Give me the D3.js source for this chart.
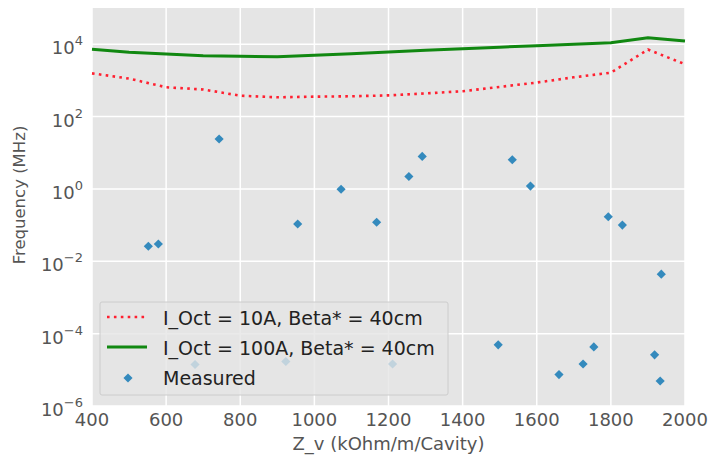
<!DOCTYPE html>
<html>
<head>
<meta charset="utf-8">
<script src="https://d3js.org/d3.v7.min.js"></script>
<style>
  body { margin: 0; background: #fff; }
  text { font-family: "DejaVu Sans", sans-serif; }
</style>
</head>
<body>
<svg></svg>
<script>
// impedance values (x) used by both threshold curves
const zv = [400, 500, 600, 700, 800, 900, 1000, 1100, 1200, 1300, 1400, 1500, 1600, 1700, 1800, 1900, 2000];
// I_Oct = 10A, Beta* = 40cm
const freq10A = [1560, 1120, 645, 560, 377, 340, 355, 363, 385, 437, 500, 660, 870, 1215, 1630, 7100, 2800];
// I_Oct = 100A, Beta* = 40cm
const freq100A = [7250, 5950, 5360, 4800, 4620, 4520, 4950, 5460, 6120, 6780, 7500, 8250, 9080, 9980, 11000, 15100, 12250];

// measured points
const measZ = [552, 579, 678, 743, 923, 955, 1072, 1168, 1211, 1255, 1291, 1496, 1534, 1583, 1660, 1725, 1754, 1793, 1831, 1918, 1933, 1936];
const measF = [0.026, 0.03, 1.4e-5, 24, 1.7e-5, 0.107, 0.98, 0.12, 1.45e-5, 2.2, 7.9, 4.9e-5, 6.4, 1.2, 7.4e-6, 1.45e-5, 4.3e-5, 0.17, 0.1, 2.6e-5, 4.9e-6, 0.0044];

const xTicks = [400, 600, 800, 1000, 1200, 1400, 1600, 1800, 2000];
const yExps = [-6, -4, -2, 0, 2, 4];
const legendLabels = ['I_Oct = 10A, Beta* = 40cm', 'I_Oct = 100A, Beta* = 40cm', 'Measured'];

const size = {w: 710, h: 456};
const margin = {t: 8, r: 25, b: 50, l: 92};
const svg = d3.select('svg').attr('width', size.w).attr('height', size.h);

const x = d3.scaleLinear().domain([400, 2000]).range([margin.l, size.w - margin.r]);
const y = d3.scaleLog().domain([1e-6, 1e5]).range([size.h - margin.b, margin.t]);

// grey panel
svg.append('rect')
    .attr('x', margin.l).attr('y', margin.t)
    .attr('width', x.range()[1] - x.range()[0])
    .attr('height', y.range()[0] - y.range()[1])
    .attr('fill', '#e5e5e5');

// white grid
const gridG = svg.append('g');
gridG.selectAll('line.vx')
    .data(xTicks)
    .join('line')
    .attr('x1', d => x(d)).attr('x2', d => x(d))
    .attr('y1', margin.t).attr('y2', y.range()[0])
    .attr('stroke', '#fff').attr('stroke-width', 1.5);
gridG.selectAll('line.hy')
    .data(yExps)
    .join('line')
    .attr('x1', margin.l).attr('x2', x.range()[1])
    .attr('y1', d => y(Math.pow(10, d))).attr('y2', d => y(Math.pow(10, d)))
    .attr('stroke', '#fff').attr('stroke-width', 1.5);

// x tick labels
svg.append('g').selectAll('text')
    .data(xTicks)
    .join('text')
    .attr('x', d => x(d))
    .attr('y', 426)
    .attr('text-anchor', 'middle')
    .attr('font-size', 18)
    .attr('fill', '#555')
    .text(d => d);

// y tick labels, 10 with superscript exponent
const yl = svg.append('g').selectAll('text')
    .data(yExps)
    .join('text')
    .attr('x', 83)
    .attr('y', d => y(Math.pow(10, d)) + 10)
    .attr('text-anchor', 'end')
    .attr('fill', '#555')
    .attr('font-size', 18);
yl.append('tspan').text('10');
yl.append('tspan')
    .attr('dy', -9)
    .attr('font-size', 13)
    .text(d => d < 0 ? '\u2212' + (-d) : d);

// axis labels
svg.append('text')
    .attr('x', (x.range()[0] + x.range()[1]) / 2)
    .attr('y', 450)
    .attr('text-anchor', 'middle')
    .attr('font-size', 18)
    .attr('fill', '#555')
    .text('Z_v (kOhm/m/Cavity)');
svg.append('text')
    .attr('transform', 'translate(25,195) rotate(-90)')
    .attr('text-anchor', 'middle')
    .attr('font-size', 16.5)
    .attr('fill', '#555')
    .text('Frequency (MHz)');

const line = d3.line().x(d => x(d[0])).y(d => y(d[1]));
const diamond = d3.symbol().type(d3.symbolSquare).size(42);

// measured points
svg.append('g').selectAll('path')
    .data(measZ.map((z, i) => [z, measF[i]]))
    .join('path')
    .attr('d', diamond)
    .attr('transform', d => 'translate(' + x(d[0]) + ',' + y(d[1]) + ') rotate(45)')
    .attr('fill', '#348abd');

// threshold curves
svg.append('path')
    .datum(zv.map((z, i) => [z, freq10A[i]]))
    .attr('d', line)
    .attr('fill', 'none')
    .attr('stroke', '#ff2030')
    .attr('stroke-width', 2.6)
    .attr('stroke-dasharray', '2.6,4.3');
svg.append('path')
    .datum(zv.map((z, i) => [z, freq100A[i]]))
    .attr('d', line)
    .attr('fill', 'none')
    .attr('stroke', '#118811')
    .attr('stroke-width', 3);

// legend
const legG = svg.append('g');
legG.append('rect')
    .attr('x', 100).attr('y', 302)
    .attr('width', 348).attr('height', 93)
    .attr('rx', 2)
    .attr('fill', '#e5e5e5').attr('fill-opacity', 0.8)
    .attr('stroke', '#cccccc');
const rowY = [317, 347, 377];
legG.append('line')
    .attr('x1', 107).attr('x2', 147).attr('y1', rowY[0]).attr('y2', rowY[0])
    .attr('stroke', '#ff2030').attr('stroke-width', 2.6).attr('stroke-dasharray', '2.6,4.3');
legG.append('line')
    .attr('x1', 107).attr('x2', 147).attr('y1', rowY[1]).attr('y2', rowY[1])
    .attr('stroke', '#118811').attr('stroke-width', 3);
legG.append('path')
    .attr('d', diamond)
    .attr('transform', 'translate(128,' + (rowY[2] + 1) + ') rotate(45)')
    .attr('fill', '#348abd');
legG.selectAll('text')
    .data(legendLabels)
    .join('text')
    .attr('x', 163)
    .attr('y', (d, i) => rowY[i] + 7.5)
    .attr('font-size', 19)
    .attr('fill', '#222')
    .text(d => d);
</script>
</body>
</html>
